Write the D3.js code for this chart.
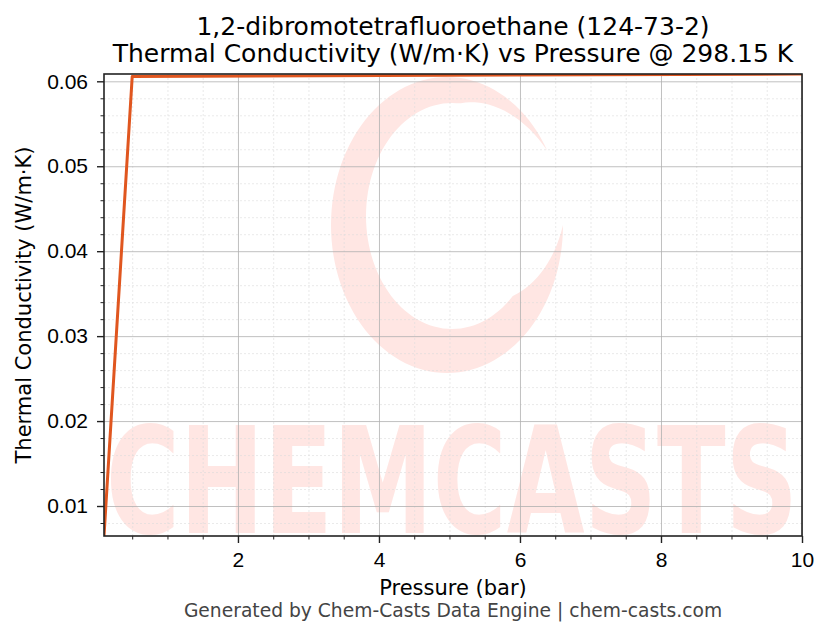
<!DOCTYPE html>
<html>
<head>
<meta charset="utf-8">
<style>
    body { margin: 0; background: white; }
    svg { font-family: "DejaVu Sans", sans-serif; }
    .grid-major line { stroke: #b0b0b0; stroke-width: 0.8; }
    .grid-minor line { stroke: #dcdcdc; stroke-width: 0.6; stroke-dasharray: 2,2; }
    .axis text { font-size: 21px; fill: #000; }
    .axis path { display: none; }
    .axis line { stroke: #222; }
</style>
</head>
<body>
<script src="https://cdn.jsdelivr.net/npm/d3@7"></script>
<script>
    // values
    var pressure = [0.1, 0.5, 10];
    var conductivity = [0.00647, 0.06056, 0.06086];
    var xTicks = [2, 4, 6, 8, 10];
    var yTicks = [0.01, 0.02, 0.03, 0.04, 0.05, 0.06];

    var width = 830, height = 644;
    var margin = {left: 104, right: 28, top: 74, bottom: 108};
    var plotW = width - margin.left - margin.right;
    var plotH = height - margin.top - margin.bottom;

    var svg = d3.select("body").append("svg")
            .attr("width", width)
            .attr("height", height);

    svg.append("rect").attr("width", width).attr("height", height).attr("fill", "white");

    var x = d3.scaleLinear().domain(d3.extent(pressure)).range([0, plotW]);
    var y = d3.scaleLinear().domain(d3.extent(conductivity)).range([plotH, 0]);

    var g = svg.append("g").attr("transform", "translate(" + margin.left + "," + margin.top + ")");

    g.append("clipPath").attr("id", "plot-clip")
            .append("rect").attr("width", plotW).attr("height", plotH);

    // watermark
    var mark = g.append("g");
    var wmColor = "#ffe6e3";
    var outer = {cx: 447 - margin.left, cy: 225 - margin.top, rx: 116, ry: 148};
    var inner = {cx: 452 - margin.left, cy: 216 - margin.top, rx: 86, ry: 113};
    var ringPts = [], innerPts = [];
    for (var a = 0; a <= 330; a += 3) {
        var t = a * Math.PI / 180;
        var ox = outer.cx + outer.rx * Math.cos(t), oy = outer.cy + outer.ry * Math.sin(t);
        var ix = inner.cx + inner.rx * Math.cos(t), iy = inner.cy + inner.ry * Math.sin(t);
        var f = Math.min(1, a / 45, (330 - a) / 55);
        ringPts.push([ox, oy]);
        innerPts.push([ox + f * (ix - ox), oy + f * (iy - oy)]);
    }
    mark.append("path")
            .attr("clip-path", "url(#plot-clip)")
            .attr("d", d3.line()(ringPts.concat(innerPts.reverse())) + "Z")
            .attr("fill", wmColor);

    mark.append("text")
            .attr("x", 106 - margin.left)
            .attr("y", 533 - margin.top)
            .attr("textLength", 692)
            .attr("lengthAdjust", "spacingAndGlyphs")
            .attr("font-size", 148)
            .attr("font-weight", "bold")
            .attr("fill", wmColor)
            .text("CHEMCASTS");

    // grids
    var xMinor = d3.range(0.5, 10, 0.5).filter(function (d) { return d % 2 !== 0; });
    var yMinor = d3.range(0.008, 0.0605, 0.002).filter(function (d) {
        return Math.abs(Math.round(d * 100) - d * 100) > 1e-6;
    });

    function bare(s) {
        s.select(".domain").remove();
        s.selectAll("text").remove();
    }

    g.append("g").attr("class", "grid-minor")
            .call(d3.axisBottom(x).tickValues(xMinor).tickSize(plotH)).call(bare);
    g.append("g").attr("class", "grid-minor")
            .call(d3.axisLeft(y).tickValues(yMinor).tickSize(-plotW)).call(bare);
    g.append("g").attr("class", "grid-major")
            .call(d3.axisBottom(x).tickValues(xTicks).tickSize(plotH)).call(bare);
    g.append("g").attr("class", "grid-major")
            .call(d3.axisLeft(y).tickValues(yTicks).tickSize(-plotW)).call(bare);

    // data line
    var pts = pressure.map(function (p, i) { return [p, conductivity[i]]; });
    g.append("path")
            .datum(pts)
            .attr("clip-path", "url(#plot-clip)")
            .attr("fill", "none")
            .attr("stroke", "#e0561f")
            .attr("stroke-width", 3)
            .attr("stroke-linejoin", "round")
            .attr("d", d3.line()
                    .x(function (d) { return x(d[0]); })
                    .y(function (d) { return y(d[1]); }));

    // axes
    var xAxis = g.append("g").attr("class", "axis")
            .attr("transform", "translate(0," + plotH + ")")
            .call(d3.axisBottom(x).tickValues(xTicks).tickSize(7).tickPadding(9).tickFormat(d3.format("d")));
    xAxis.selectAll("line").attr("stroke-width", 1.4);
    g.append("g").attr("class", "axis")
            .attr("transform", "translate(0," + plotH + ")")
            .call(d3.axisBottom(x).tickValues(xMinor).tickSize(3.5)).call(bare)
            .selectAll("line").attr("stroke-width", 1);

    var yAxis = g.append("g").attr("class", "axis")
            .call(d3.axisLeft(y).tickValues(yTicks).tickSize(7).tickPadding(9).tickFormat(d3.format(".2f")));
    yAxis.selectAll("line").attr("stroke-width", 1.4);
    g.append("g").attr("class", "axis")
            .call(d3.axisLeft(y).tickValues(yMinor).tickSize(3.5)).call(bare)
            .selectAll("line").attr("stroke-width", 1);

    // frame
    g.append("rect")
            .attr("width", plotW).attr("height", plotH)
            .attr("fill", "none").attr("stroke", "#222").attr("stroke-width", 1.6);

    // texts
    var cx = margin.left + plotW / 2;
    svg.append("text").attr("x", cx).attr("y", 35).attr("text-anchor", "middle")
            .attr("font-size", 25).text("1,2-dibromotetrafluoroethane (124-73-2)");
    svg.append("text").attr("x", cx).attr("y", 62).attr("text-anchor", "middle")
            .attr("font-size", 25).text("Thermal Conductivity (W/m\u00b7K) vs Pressure @ 298.15 K");
    svg.append("text").attr("x", cx).attr("y", 595).attr("text-anchor", "middle")
            .attr("font-size", 21).text("Pressure (bar)");
    svg.append("text")
            .attr("transform", "translate(31," + (margin.top + plotH / 2) + ") rotate(-90)")
            .attr("text-anchor", "middle")
            .attr("font-size", 21).text("Thermal Conductivity (W/m\u00b7K)");
    svg.append("text").attr("x", cx).attr("y", 617).attr("text-anchor", "middle")
            .attr("font-size", 18.7).attr("fill", "#444")
            .text("Generated by Chem-Casts Data Engine | chem-casts.com");
</script>
</body>
</html>
